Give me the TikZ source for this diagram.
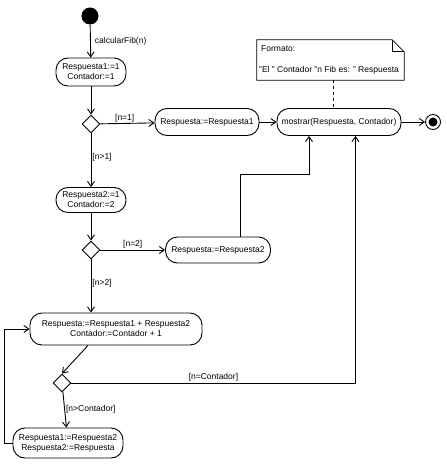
\documentclass[tikz,border=0pt]{standalone}
\usepackage{fontspec}
\setmainfont{Liberation Sans}
\usetikzlibrary{arrows.meta,shapes.geometric,calc}
\begin{document}
\begin{tikzpicture}[x=1pt,y=-1pt,
  every node/.style={font=\fontsize{8.5}{10}\selectfont},
  act/.style={draw,line width=0.9pt,rounded corners=12pt,align=center,inner sep=2pt},
  dec/.style={draw,diamond,line width=0.9pt,minimum size=18pt,inner sep=0pt},
  arr/.style={line width=0.9pt,-{Straight Barb[length=5pt,width=7pt,line width=0.9pt]}},
  ln/.style={line width=0.9pt},
  lab/.style={inner sep=1pt}]
\useasboundingbox (0,0) rectangle (446,470);
\node[circle,fill=black,minimum size=17pt,inner sep=0pt] (start) at (90,16) {};
\node[act,minimum width=70pt,minimum height=28pt] (b1) at (91,72) {Respuesta1:=1\\Contador:=1};
\node[dec] (d1) at (91,124) {};
\node[act,minimum width=104pt,minimum height=27pt] (r1) at (207,122) {Respuesta:=Respuesta1};
\node[act,minimum width=70pt,minimum height=25pt] (b2) at (91,200) {Respuesta2:=1\\Contador:=2};
\node[dec] (d2) at (91,250) {};
\node[act,minimum width=105pt,minimum height=26pt] (r2) at (218,250) {Respuesta:=Respuesta2};
\node[act,minimum width=172pt,minimum height=32pt] (b3) at (116,329) {Respuesta:=Respuesta1 + Respuesta2\\Contador:=Contador + 1};
\node[dec] (d3) at (62,383) {};
\node[act,minimum width=110pt,minimum height=30pt] (b4) at (68,443) {Respuesta1:=Respuesta2\\Respuesta2:=Respuesta};
\node[act,minimum width=124pt,minimum height=27pt] (m) at (339,122) {mostrar(Respuesta, Contador)};
\node[circle,draw,line width=0.9pt,minimum size=15pt,inner sep=0pt] (end) at (433,122) {};
\node[circle,fill=black,minimum size=9pt,inner sep=0pt] (endin) at (433,122) {};
% note
\node[minimum width=147pt,minimum height=40pt,inner sep=0pt] (note) at (330.5,60) {};
\draw[line width=0.8pt] (note.north west) -- ([xshift=-12pt]note.north east) -- ([yshift=-12pt]note.north east) -- (note.south east) -- (note.south west) -- cycle;
\draw[line width=0.8pt] ([xshift=-12pt]note.north east) -- ([xshift=-12pt,yshift=-12pt]note.north east) -- ([yshift=-12pt]note.north east);
\node[anchor=west,inner sep=0pt] (nt1) at (261,49) {Formato:};
\node[anchor=west,inner sep=0pt] (nt2) at (259,70) {"El " Contador "n Fib es: " Respuesta};
\draw[line width=0.9pt,dashed] ([xshift=2.5pt]note.south) -- ([xshift=-6pt]m.north);
% connectors
\draw[arr] (start) -- node[right,lab,xshift=3pt] {calcularFib(n)} (b1);
\draw[arr] (b1) -- (d1);
\draw[arr] (d1) -- node[above,lab,pos=0.45] {[n=1]} (r1);
\draw[arr] (d1) -- node[right,lab,pos=0.45] {[n>1]} (b2);
\draw[arr] (b2) -- (d2);
\draw[arr] (d2) -- node[above,lab,pos=0.5] {[n=2]} (r2);
\draw[arr] (d2) -- node[right,lab,pos=0.45] {[n>2]} (d2 |- b3.north);
\draw[arr] ([xshift=-28pt]b3.south) -- (d3.north);
\draw[arr] (d3) -- node[right,lab,pos=0.5] {[n>Contador]} (b4);
\draw[arr] (b4.west) -- ++(-8,0) |- (b3.west);
\draw[arr] (d3.east) -- node[above,lab,pos=0.5] {[n=Contador]} ++(284,0) coordinate (c1) -- (c1 |- m.south);
\draw[arr] (r1) -- (m);
\draw[arr] ([xshift=22pt]r2.north) -- ++(0,-62) coordinate (c2) -| ([xshift=-30pt]m.south);
\draw[arr] (m) -- (end);
\end{tikzpicture}
\end{document}
